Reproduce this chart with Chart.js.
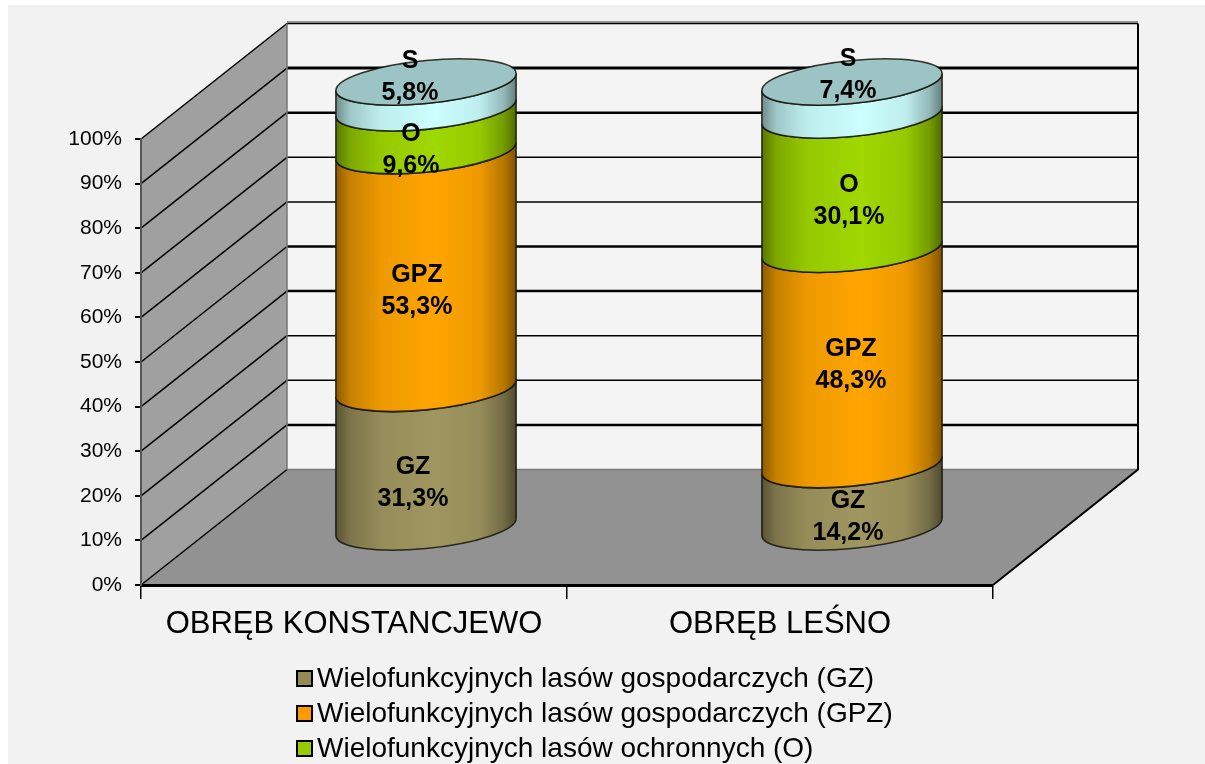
<!DOCTYPE html>
<html>
<head>
<meta charset="utf-8">
<title>Obręby</title>
<script src="https://cdn.jsdelivr.net/npm/chart.js@4"></script>
<style>
  html, body { margin: 0; padding: 0; background: #fff; overflow: hidden; }
  #wrap { width: 1205px; height: 764px; }
</style>
</head>
<body>
<div id="wrap"><canvas id="BarChart"></canvas></div>
<script>
const categories = ["OBRĘB KONSTANCJEWO", "OBRĘB LEŚNO"];
const seriesNames = [
  "Wielofunkcyjnych lasów gospodarczych (GZ)",
  "Wielofunkcyjnych lasów gospodarczych (GPZ)",
  "Wielofunkcyjnych lasów ochronnych (O)",
  "Wielofunkcyjnych lasów specjalnych (S)"
];
const seriesCodes = ["GZ", "GPZ", "O", "S"];
const valuesGZ = [31.3, 14.2];
const valuesGPZ = [53.3, 48.3];
const valuesO = [9.6, 30.1];
const valuesS = [5.8, 7.4];
const seriesColors = [[160, 150, 96], [255, 165, 0], [160, 216, 0], [204, 255, 255]];
const legendColors = ["#948a54", "#ff9900", "#99cc00", "#ccffff"];
const capColor = "#9cc4c4";

// depth of the 3d box, px
const depthX = 146;
const depthY = 115.5;
// the cylinders stand in the middle of the floor
const standX = 72;
const standY = 57;
const wallColor = "#a0a0a0";
const floorColor = "#929292";
const gridWidths = [0, 2.5, 1.5, 1.5, 2.5, 2.5, 1.5, 1.5, 2.5, 3, 1.5];

// small corrections of the data labels, [series][category]
const labelNudgeX = [[-13, -4], [-9, -1], [-15, -3], [-16, -4]];
const labelNudgeY = [[25, 21], [22, 8], [21, 19], [-18, -23]];

function shade(rgb, k) {
  return "rgb(" + rgb.map(c => Math.round(c * k)).join(",") + ")";
}

function cylinderGradient(ctx, left, right, rgb) {
  const g = ctx.createLinearGradient(left, 0, right, 0);
  g.addColorStop(0, shade(rgb, 0.55));
  g.addColorStop(0.08, shade(rgb, 0.78));
  g.addColorStop(0.25, shade(rgb, 0.93));
  g.addColorStop(0.55, shade(rgb, 1));
  g.addColorStop(0.8, shade(rgb, 0.93));
  g.addColorStop(0.93, shade(rgb, 0.72));
  g.addColorStop(1, shade(rgb, 0.5));
  return g;
}

function ellipseArc(ctx, cx, cy, rx, from, to, back) {
  ctx.save();
  ctx.transform(rx, -8.5, 0, 21.5, cx, cy);
  ctx.arc(0, 0, 1, from, to, back);
  ctx.restore();
}

const boxPlugin = {
  id: "box3d",
  beforeDraw(chart) {
    const ctx = chart.ctx;
    const a = chart.chartArea;
    const y = chart.scales.y;
    ctx.save();
    ctx.fillStyle = "#fff";
    ctx.fillRect(0, 0, chart.width, chart.height);
    ctx.fillStyle = "#f2f2f2";
    ctx.fillRect(8, 5, chart.width, chart.height);

    // back wall
    const backL = a.left + depthX;
    const backR = a.right + depthX - 1;
    const backTop = a.top - depthY;
    const backBottom = a.bottom - depthY;
    ctx.fillStyle = "#f4f4f4";
    ctx.fillRect(backL, backTop, backR - backL, backBottom - backTop);

    // left wall
    ctx.fillStyle = wallColor;
    ctx.beginPath();
    ctx.moveTo(a.left, a.top);
    ctx.lineTo(backL, backTop);
    ctx.lineTo(backL, backBottom);
    ctx.lineTo(a.left, a.bottom);
    ctx.closePath();
    ctx.fill();

    // floor
    ctx.fillStyle = floorColor;
    ctx.beginPath();
    ctx.moveTo(a.left, a.bottom);
    ctx.lineTo(backL, backBottom);
    ctx.lineTo(backR, backBottom);
    ctx.lineTo(a.right, a.bottom);
    ctx.closePath();
    ctx.fill();

    // gridlines run along the left wall and the back wall
    ctx.strokeStyle = "#000";
    y.ticks.forEach(function (t, i) {
      const py = y.getPixelForValue(t.value);
      ctx.lineWidth = 1.5;
      ctx.beginPath();
      ctx.moveTo(a.left, py);
      ctx.lineTo(backL, py - depthY);
      ctx.stroke();
      if (i > 0) {
        ctx.lineWidth = gridWidths[i];
        ctx.beginPath();
        ctx.moveTo(backL, py - depthY);
        ctx.lineTo(backR, py - depthY);
        ctx.stroke();
      }
    });
    ctx.strokeStyle = "#777";
    ctx.lineWidth = 1.5;
    ctx.beginPath();
    ctx.moveTo(backL, backTop - 1.5);
    ctx.lineTo(backR, backTop - 1.5);
    ctx.moveTo(backL, backBottom);
    ctx.lineTo(backR, backBottom);
    ctx.moveTo(backL, backTop);
    ctx.lineTo(backL, backBottom);
    ctx.stroke();

    // right edges
    ctx.strokeStyle = "#000";
    ctx.lineWidth = 2;
    ctx.beginPath();
    ctx.moveTo(backR, backTop);
    ctx.lineTo(backR, backBottom);
    ctx.lineTo(a.right, a.bottom);
    ctx.stroke();
    ctx.restore();
  },
  beforeDatasetsDraw(chart) {
    const ctx = chart.ctx;
    ctx.save();
    chart.data.datasets.forEach(function (ds, d) {
      chart.getDatasetMeta(d).data.forEach(function (bar) {
        const cx = bar.x + standX;
        const rx = bar.width / 2;
        const top = bar.y - standY;
        const bottom = bar.base - standY;
        ctx.beginPath();
        ellipseArc(ctx, cx, bottom, rx, 0, Math.PI, false);
        ellipseArc(ctx, cx, top, rx, Math.PI, 0, true);
        ctx.closePath();
        ctx.fillStyle = cylinderGradient(ctx, cx - rx, cx + rx, seriesColors[d]);
        ctx.fill();
        ctx.strokeStyle = "rgba(20,20,10,0.85)";
        ctx.lineWidth = 1.6;
        ctx.stroke();
        if (d === chart.data.datasets.length - 1) {
          ctx.beginPath();
          ellipseArc(ctx, cx, top, rx, 0, Math.PI * 2, false);
          ctx.closePath();
          ctx.fillStyle = capColor;
          ctx.fill();
          ctx.stroke();
        }
      });
    });

    // data labels
    ctx.fillStyle = "#000";
    ctx.font = "bold 25px 'Liberation Sans'";
    ctx.textAlign = "center";
    ctx.textBaseline = "middle";
    chart.data.datasets.forEach(function (ds, d) {
      chart.getDatasetMeta(d).data.forEach(function (bar, i) {
        const cx = bar.x + standX + labelNudgeX[d][i];
        const cy = (bar.y + bar.base) / 2 - standY + labelNudgeY[d][i];
        ctx.fillText(seriesCodes[d], cx, cy - 16);
        ctx.fillText(ds.data[i].toFixed(1).replace(".", ",") + "%", cx, cy + 16);
      });
    });

    // legend
    ctx.textAlign = "left";
    ctx.font = "28px 'Liberation Sans'";
    seriesNames.forEach(function (name, i) {
      const rowY = 679 + i * 35;
      ctx.fillStyle = legendColors[i];
      ctx.strokeStyle = "#000";
      ctx.lineWidth = 2;
      ctx.fillRect(297, rowY - 8, 15, 15);
      ctx.strokeRect(297, rowY - 8, 15, 15);
      ctx.fillStyle = "#000";
      ctx.fillText(name, 317, rowY);
    });
    ctx.restore();
    return false;
  }
};

const datasetValues = [valuesGZ, valuesGPZ, valuesO, valuesS];

new Chart(document.getElementById("BarChart"), {
  type: "bar",
  data: {
    labels: categories,
    datasets: seriesNames.map(function (name, i) {
      return {
        label: name,
        data: datasetValues[i],
        backgroundColor: legendColors[i],
        barPercentage: 0.423,
        categoryPercentage: 1
      };
    })
  },
  options: {
    responsive: true,
    maintainAspectRatio: false,
    animation: false,
    layout: { padding: { top: 139, right: 212, left: 0, bottom: 0 } },
    plugins: {
      legend: { display: false },
      tooltip: { enabled: false }
    },
    scales: {
      x: {
        stacked: true,
        afterFit(scale) { scale.height = 179; },
        grid: { drawOnChartArea: false, color: "#000", lineWidth: 1.5, tickLength: 14 },
        border: { color: "#000", width: 3 },
        ticks: {
          color: "#000",
          padding: 7,
          maxRotation: 0,
          font: { family: "'Liberation Sans'", size: 31 }
        }
      },
      y: {
        stacked: true,
        min: 0,
        max: 100,
        afterFit(scale) { scale.width = 141; },
        grid: { drawOnChartArea: false, color: "#000", lineWidth: 2, tickLength: 6 },
        border: { color: "#555", width: 2 },
        ticks: {
          stepSize: 10,
          color: "#000",
          padding: 13,
          font: { family: "'Liberation Sans'", size: 21 },
          callback: function (v) { return v + "%"; }
        }
      }
    }
  },
  plugins: [boxPlugin]
});
</script>
</body>
</html>
